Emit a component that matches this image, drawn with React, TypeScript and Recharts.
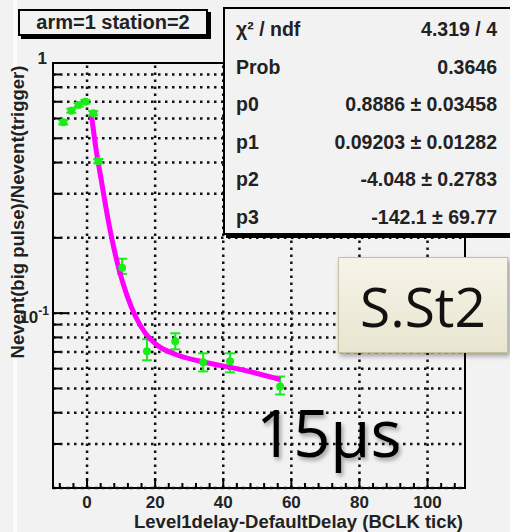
import React from 'react';
import { ComposedChart, Scatter, Line, XAxis, YAxis, ErrorBar, ReferenceLine, ReferenceArea } from 'recharts';

// measured points (green) with asymmetric error bars
const pointX = [-7, -4.6, -2.5, -0.5, 1.8, 3.3, 10.3, 17.6, 25.9, 34.1, 42.0, 56.7];
const pointY = [0.58, 0.645, 0.68, 0.7, 0.63, 0.405, 0.152, 0.0704, 0.0772, 0.0636, 0.0642, 0.0509];
const errLow = [0.012, 0.012, 0.012, 0.012, 0.012, 0.008, 0.0085, 0.0056, 0.0055, 0.0051, 0.0062, 0.0036];
const errHigh = [0.012, 0.012, 0.012, 0.012, 0.012, 0.008, 0.013, 0.0083, 0.0059, 0.0055, 0.0049, 0.0049];

// fit curve (magenta)
const curveX = [1.3, 2.7, 4.2, 5.7, 7.4, 9.5, 11.8, 14.2, 17.1, 20.6, 25.3, 33.2, 45.0, 56.7];
const curveY = [0.618, 0.447, 0.339, 0.257, 0.195, 0.1475, 0.117, 0.0972, 0.0832, 0.0744, 0.069, 0.0642, 0.0596, 0.0543];

const xTicks = [-8, -4, 0, 4, 8, 12, 16, 20, 24, 28, 32, 36, 40, 44, 48, 52, 56, 60, 64, 68, 72, 76, 80, 84, 88, 92, 96, 100, 104, 108];
const xGrid = [0, 20, 40, 60, 80, 100];
const yTicks = [0.02, 0.03, 0.04, 0.05, 0.06, 0.07, 0.08, 0.09, 0.1, 0.2, 0.3, 0.4, 0.5, 0.6, 0.7, 0.8, 0.9, 1];

const statNames = ['χ² / ndf', 'Prob', 'p0', 'p1', 'p2', 'p3'];
const statValues = ['4.319 / 4', '0.3646', '0.8886 ± 0.03458', '0.09203 ± 0.01282', '-4.048 ± 0.2783', '-142.1 ± 69.77'];

const points = pointX.map((x, i) => ({ x, y: pointY[i], err: [errLow[i], errHigh[i]] }));
const curve = curveX.map((x, i) => ({ x, y: curveY[i] }));

const FONT = '"Liberation Sans", Arial, sans-serif';

const XTick = ({ x, y, payload }: any) => {
  const major = payload.value % 20 === 0;
  return (
    <g>
      <line x1={x} x2={x} y1={y} y2={y - (major ? 10 : 5)} stroke="#000" strokeWidth={2} />
      {major && (
        <text x={x} y={y + 20} textAnchor="middle" fontSize={17} fontWeight="bold" fill="#222" fontFamily={FONT}>
          {payload.value}
        </text>
      )}
    </g>
  );
};

const YTick = ({ x, y, payload }: any) => {
  const v = payload.value;
  const major = v === 1 || v === 0.1;
  return (
    <g>
      <line x1={x} x2={x + (major ? 14 : 7)} y1={y} y2={y} stroke="#000" strokeWidth={2} />
      {v === 1 && (
        <text x={x - 6} y={y + 1} textAnchor="end" fontSize={17} fontWeight="bold" fill="#222" fontFamily={FONT}>
          1
        </text>
      )}
      {v === 0.1 && (
        <text x={x - 4} y={y + 10} textAnchor="end" fontSize={17} fontWeight="bold" fill="#222" fontFamily={FONT}>
          10<tspan dy={-8} fontSize={12}>-1</tspan>
        </text>
      )}
    </g>
  );
};

const Dot = ({ cx, cy }: any) => <circle cx={cx} cy={cy} r={4} fill="#19ec19" />;

export default function App() {
  return (
    <div style={{ position: 'relative', width: 510, height: 532, background: '#f2f2f2', fontFamily: FONT, overflow: 'hidden' }}>
      <style>{'body{margin:0}'}</style>
      <div style={{ position: 'absolute', left: 13, top: 0, width: 4, height: 532, background: '#fbfbfb' }} />
      <ComposedChart width={510} height={532} margin={{ top: 63, right: 45, bottom: 0, left: 0 }}>
        <XAxis
          dataKey="x"
          type="number"
          domain={[-10, 111]}
          ticks={xTicks}
          interval={0}
          allowDataOverflow
          axisLine={false}
          tickLine={false}
          tickSize={0}
          tickMargin={0}
          height={44}
          tick={<XTick />}
        />
        <YAxis
          dataKey="y"
          type="number"
          scale="log"
          domain={[0.02, 1]}
          ticks={yTicks}
          interval={0}
          allowDataOverflow
          axisLine={false}
          tickLine={false}
          tickSize={0}
          tickMargin={0}
          width={53}
          tick={<YTick />}
        />
        {xGrid.map((v) => (
          <ReferenceLine key={'gx' + v} x={v} stroke="#111" strokeWidth={2.5} strokeDasharray="2.5 4.5" />
        ))}
        {yTicks.slice(0, -1).map((v) => (
          <ReferenceLine key={'gy' + v} y={v} stroke="#111" strokeWidth={2.5} strokeDasharray="2.5 4.5" />
        ))}
        <Scatter data={points} dataKey="y" shape={<Dot />} isAnimationActive={false}>
          <ErrorBar dataKey="err" direction="y" stroke="#19ec19" strokeWidth={2} width={5} />
        </Scatter>
        <Line data={curve} dataKey="y" type="monotone" stroke="#ff00ff" strokeWidth={5} dot={false} isAnimationActive={false} />
        <ReferenceArea x1={-10} x2={111} y1={0.02} y2={1} fill="none" stroke="#000" strokeWidth={2} fillOpacity={0} />
      </ComposedChart>

      <div
        style={{
          position: 'absolute', left: 18, top: 212, transform: 'translate(-50%, -50%) rotate(-90deg)',
          whiteSpace: 'nowrap', fontSize: 18.5, fontWeight: 'bold', color: '#222',
        }}
      >
        Nevent(big pulse)/Nevent(trigger)
      </div>
      <div style={{ position: 'absolute', right: 47, top: 511, whiteSpace: 'nowrap', fontSize: 18.5, fontWeight: 'bold', color: '#222' }}>
        Level1delay-DefaultDelay (BCLK tick)
      </div>

      <div
        style={{
          position: 'absolute', left: 18, top: 9, width: 186, height: 23, border: '2px solid #000',
          boxShadow: '3px 3px 0 #000', background: '#f2f2f2', fontSize: 20, fontWeight: 'bold',
          textAlign: 'center', lineHeight: '23px', color: '#222', whiteSpace: 'nowrap',
        }}
      >
        arm=1 station=2
      </div>

      <div
        style={{
          position: 'absolute', left: 223, top: 7, width: 290, height: 224, border: '2px solid #000',
          boxShadow: '3px 3px 0 #000', background: '#f2f2f2', color: '#222', fontWeight: 'bold', fontSize: 19.5,
        }}
      >
        {statNames.map((n, i) => (
          <div
            key={n}
            style={{
              position: 'absolute', left: 11, right: 18, top: 8 + i * 37.5, display: 'flex',
              justifyContent: 'space-between', whiteSpace: 'nowrap', lineHeight: '24px',
            }}
          >
            <span>{n}</span>
            <span>{statValues[i]}</span>
          </div>
        ))}
      </div>

      <div
        style={{
          position: 'absolute', left: 338, top: 257, width: 168, height: 94,
          background: 'linear-gradient(#f6f4e8, #e8e5cf)', border: '1px solid #c7c29c',
          boxShadow: '2px 3px 5px rgba(0,0,0,0.35)', display: 'flex', alignItems: 'center', justifyContent: 'center',
          fontFamily: '"Open Sans", sans-serif', fontSize: 55, color: '#111',
        }}
      >
        S.St2
      </div>

      <div
        style={{
          position: 'absolute', left: 256, top: 382, fontFamily: '"Open Sans", sans-serif', fontSize: 65,
          lineHeight: '100px', color: '#000', textShadow: '2px 3px 4px rgba(0,0,0,0.35)', whiteSpace: 'nowrap',
        }}
      >
        15μs
      </div>
    </div>
  );
}
